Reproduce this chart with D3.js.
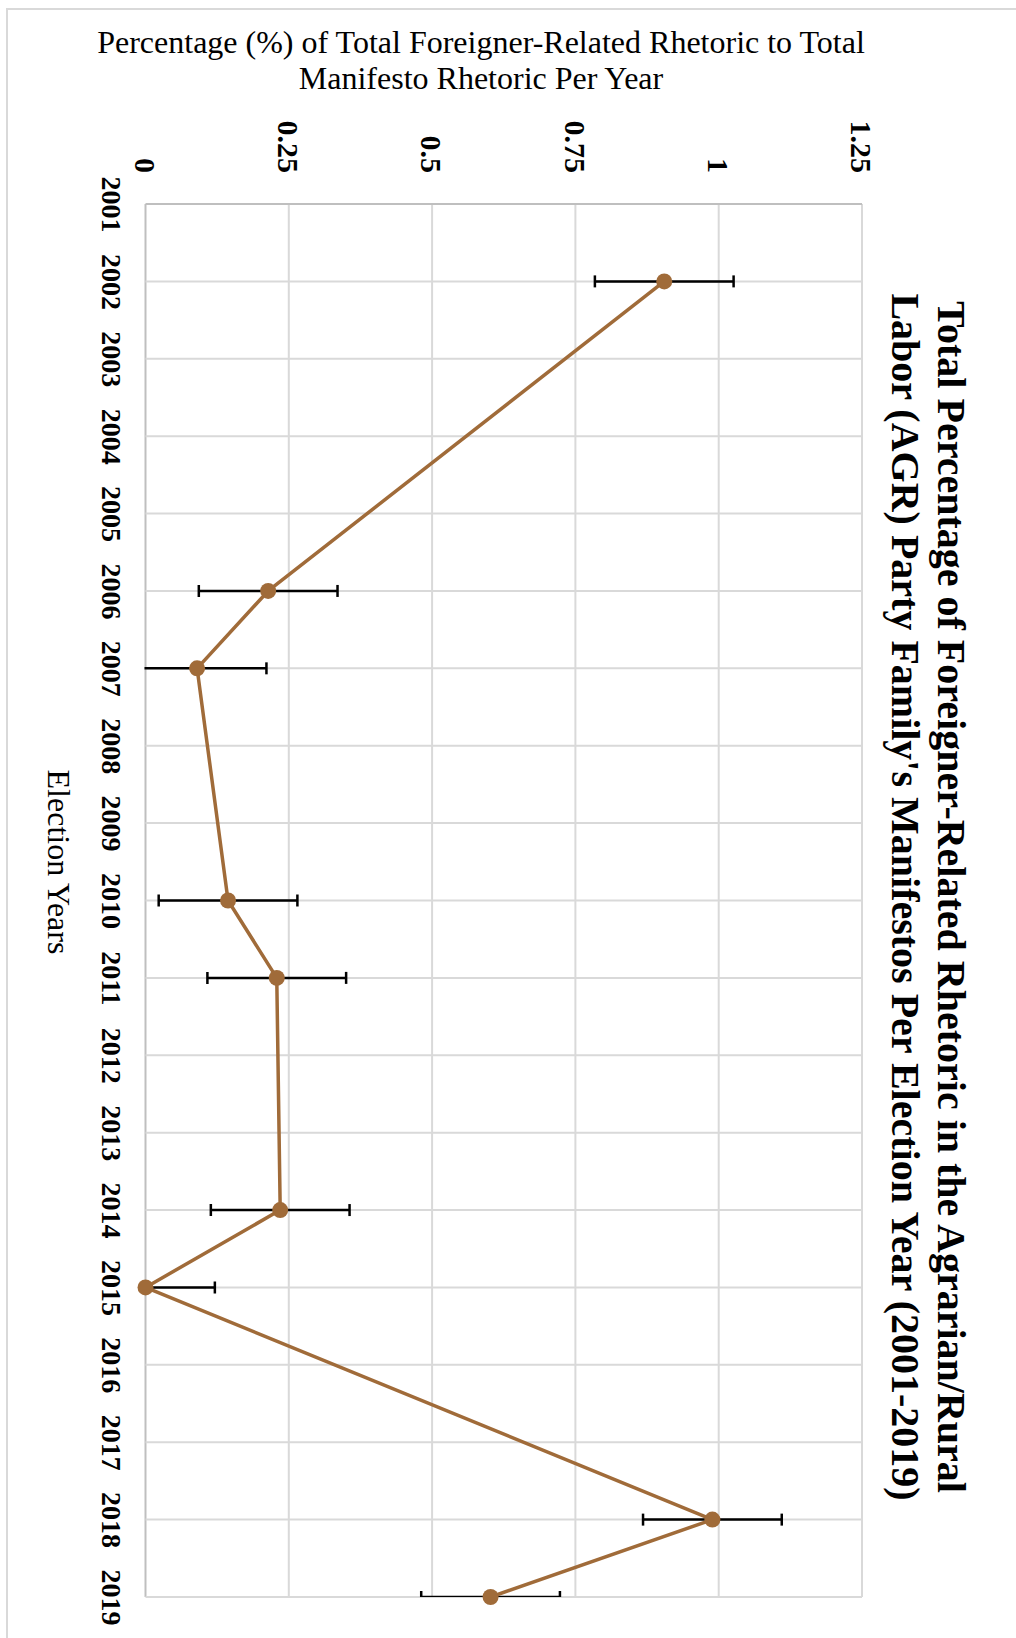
<!DOCTYPE html>
<html>
<head>
<meta charset="utf-8">
<script src="https://cdn.jsdelivr.net/npm/d3@7"></script>
<style>
  html, body { margin: 0; padding: 0; background: #fff; }
  svg { display: block; }
  text { font-family: "Liberation Serif", "Times New Roman", serif; fill: #000; }
</style>
</head>
<body>
<svg id="chart" width="1016" height="1638"></svg>
<script>
// Election years (category axis)
const years = ["2001","2002","2003","2004","2005","2006","2007","2008","2009","2010",
               "2011","2012","2013","2014","2015","2016","2017","2018","2019"];
// Share of foreigner-related rhetoric (%) per election year; null = no election
const shares = [null, 0.905, null, null, null, 0.214, 0.09, null, null, 0.144,
                0.229, null, null, 0.235, 0, null, null, 0.989, 0.602];
// Error bar half-widths
const errors = [null, 0.121, null, null, null, 0.121, 0.121, null, null, 0.121,
                0.121, null, null, 0.121, 0.121, null, null, 0.121, 0.121];
// Value axis ticks
const valueTicks = [0, 0.25, 0.5, 0.75, 1, 1.25];
const valueTickLabels = ["0", "0.25", "0.5", "0.75", "1", "1.25"];

const titleLines = [
  "Total Percentage of Foreigner-Related Rhetoric in the Agrarian/Rural",
  "Labor (AGR) Party Family's Manifestos Per Election Year (2001-2019)"
];
const valueTitleLines = [
  "Percentage (%) of Total Foreigner-Related Rhetoric to Total",
  "Manifesto Rhetoric Per Year"
];
const categoryTitle = "Election Years";

const lineColor = "#a06b39";

const svg = d3.select("#chart");

// chart area frame (only its left and top edges fall inside the page)
svg.append("rect")
  .attr("x", 7).attr("y", 9)
  .attr("width", 1200).attr("height", 1800)
  .attr("fill", "#fff")
  .attr("stroke", "#d9d9d9").attr("stroke-width", 2);

// The chart is laid out in its own frame and turned a quarter turn clockwise.
const g = svg.append("g").attr("transform", "translate(1016,0) rotate(90)");

const plot = { left: 204, right: 1597, top: 154, bottom: 870.5 };

const x = d3.scalePoint().domain(years).range([plot.left, plot.right]);
const y = d3.scaleLinear().domain([0, 1.25]).range([plot.bottom, plot.top]);

// horizontal gridlines
g.append("g").selectAll("line").data(valueTicks).join("line")
  .attr("x1", plot.left).attr("x2", plot.right)
  .attr("y1", d => y(d)).attr("y2", d => y(d))
  .attr("stroke", d => d === 0 ? "#bfbfbf" : "#d9d9d9")
  .attr("stroke-width", 2);

// vertical gridlines
g.append("g").selectAll("line").data(years).join("line")
  .attr("x1", d => x(d)).attr("x2", d => x(d))
  .attr("y1", plot.top).attr("y2", plot.bottom)
  .attr("stroke", (d, i) => i === 0 ? "#bfbfbf" : "#d9d9d9")
  .attr("stroke-width", 2);

// value axis labels
const yAxis = d3.axisLeft(y)
  .tickValues(valueTicks)
  .tickFormat((d, i) => valueTickLabels[i])
  .tickSize(0).tickPadding(31);
const yAxisG = g.append("g").attr("transform", `translate(${plot.left},0)`).call(yAxis);
yAxisG.select(".domain").remove();
yAxisG.selectAll("text")
  .attr("font-size", 30).attr("font-weight", "bold")
  .attr("dy", "0.34em");

// category axis labels
const xAxis = d3.axisBottom(x).tickSize(0).tickPadding(0);
const xAxisG = g.append("g").attr("transform", `translate(0,${plot.bottom})`).call(xAxis);
xAxisG.select(".domain").remove();
xAxisG.selectAll("text")
  .attr("font-size", 28).attr("font-weight", "bold")
  .attr("y", 44).attr("dy", 0);

const pts = years.map((yr, i) => ({ yr, v: shares[i], e: errors[i] }))
  .filter(d => d.v !== null);

// error bars, clipped to the plot area
g.append("clipPath").attr("id", "plotClip")
  .append("rect")
  .attr("x", plot.left).attr("y", plot.top)
  .attr("width", plot.right - plot.left).attr("height", plot.bottom - plot.top + 1);

const eb = g.append("g").attr("clip-path", "url(#plotClip)")
  .attr("stroke", "#000").attr("stroke-width", 2.5);
const cap = 6;
pts.forEach(d => {
  const cx = x(d.yr);
  const lo = y(d.v - d.e), hi = y(d.v + d.e);
  eb.append("line").attr("x1", cx).attr("x2", cx).attr("y1", lo).attr("y2", hi);
  eb.append("line").attr("x1", cx - cap).attr("x2", cx + cap).attr("y1", lo).attr("y2", lo);
  eb.append("line").attr("x1", cx - cap).attr("x2", cx + cap).attr("y1", hi).attr("y2", hi);
});

// series line
const line = d3.line().x(d => x(d.yr)).y(d => y(d.v));
g.append("path").datum(pts)
  .attr("d", line)
  .attr("fill", "none")
  .attr("stroke", lineColor)
  .attr("stroke-width", 3.5)
  .attr("stroke-linejoin", "round");

// markers
g.append("g").selectAll("circle").data(pts).join("circle")
  .attr("cx", d => x(d.yr)).attr("cy", d => y(d.v))
  .attr("r", 8).attr("fill", lineColor);

// chart title
g.append("text")
  .attr("text-anchor", "middle")
  .attr("font-size", 40).attr("font-weight", "bold")
  .selectAll("tspan").data(titleLines).join("tspan")
  .attr("x", 897).attr("y", (d, i) => 78 + i * 46)
  .text(d => d);

// value axis title
g.append("text")
  .attr("text-anchor", "middle")
  .attr("font-size", 32)
  .attr("transform", "translate(0,535) rotate(-90)")
  .selectAll("tspan").data(valueTitleLines).join("tspan")
  .attr("x", 0).attr("y", (d, i) => 53 + i * 36)
  .text(d => d);

// category axis title
g.append("text")
  .attr("text-anchor", "middle")
  .attr("font-size", 32)
  .attr("x", 862).attr("y", 968)
  .text(categoryTitle);
</script>
</body>
</html>
